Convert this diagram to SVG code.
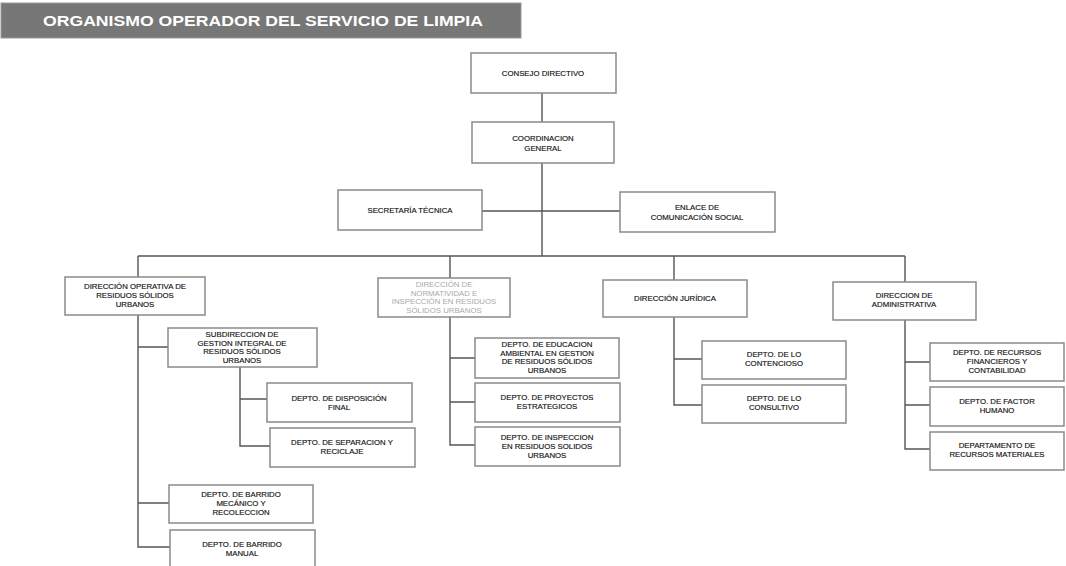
<svg xmlns="http://www.w3.org/2000/svg" width="1066" height="566" viewBox="0 0 1066 566">
<style>
.bx{fill:#fff;stroke:#8a8a8a;stroke-width:1.5}
.t{font-family:"Liberation Sans",Arial,sans-serif;font-size:7.8px;fill:#111;stroke:#111;stroke-width:0.15;text-anchor:middle}
.f{fill:#a8a8a8;stroke:none}
.c{fill:none;stroke:#555;stroke-width:1.4}
</style>
<rect width="1066" height="566" fill="#fff"/>
<g id="title">
<rect x="1" y="3" width="520" height="35" fill="#777" stroke="#999" stroke-width="1"/>
<text x="263" y="26" font-family="'Liberation Sans',Arial,sans-serif" font-size="14.5" font-weight="bold" fill="#fff" text-anchor="middle" textLength="440" lengthAdjust="spacingAndGlyphs">ORGANISMO OPERADOR DEL SERVICIO DE LIMPIA</text>
</g>
<g id="connectors">
<path class="c" d="M542,93V122M542,163V256M482,211H620"/>
<path class="c" d="M138,256H905M138,256V277M450,256V278M674,256V280M905,256V282"/>
<path class="c" d="M138,315V547H170M138,347H168M138,503H169"/>
<path class="c" d="M240,367V446H270M240,399H267"/>
<path class="c" d="M450,317V445H475M450,358H475M450,402H475"/>
<path class="c" d="M674,317V405H702M674,359H702"/>
<path class="c" d="M905,320V449H930M905,362H930M905,405H930"/>
</g>
<g id="consejo"><rect class="bx" x="471" y="53" width="145" height="40"/><text class="t" x="543" y="76">CONSEJO DIRECTIVO</text></g>
<g id="coordinacion"><rect class="bx" x="472" y="122" width="142" height="41"/><text class="t" x="543" y="141">COORDINACION</text><text class="t" x="543" y="150.5">GENERAL</text></g>
<g id="secretaria"><rect class="bx" x="338" y="190" width="144" height="40"/><text class="t" x="410" y="213">SECRETARÍA TÉCNICA</text></g>
<g id="enlace"><rect class="bx" x="620" y="192" width="155" height="40"/><text class="t" x="697" y="210">ENLACE DE</text><text class="t" x="697" y="219.5">COMUNICACIÓN SOCIAL</text></g>
<g id="dir-operativa"><rect class="bx" x="65" y="277" width="140" height="38"/><text class="t" x="135" y="289">DIRECCIÓN OPERATIVA DE</text><text class="t" x="135" y="298">RESIDUOS SÓLIDOS</text><text class="t" x="135" y="307">URBANOS</text></g>
<g id="subdireccion"><rect class="bx" x="168" y="328" width="149" height="39"/><text class="t" x="242" y="337">SUBDIRECCION DE</text><text class="t" x="242" y="345.5">GESTION INTEGRAL DE</text><text class="t" x="242" y="354">RESIDUOS SÓLIDOS</text><text class="t" x="242" y="362.5">URBANOS</text></g>
<g id="disposicion"><rect class="bx" x="267" y="383" width="145" height="39"/><text class="t" x="339" y="401">DEPTO. DE DISPOSICIÓN</text><text class="t" x="339" y="410">FINAL</text></g>
<g id="separacion"><rect class="bx" x="270" y="428" width="145" height="39"/><text class="t" x="342" y="445">DEPTO. DE SEPARACION Y</text><text class="t" x="342" y="454">RECICLAJE</text></g>
<g id="barrido-mecanico"><rect class="bx" x="169" y="485" width="144" height="38"/><text class="t" x="241" y="497">DEPTO. DE BARRIDO</text><text class="t" x="241" y="506">MECÁNICO Y</text><text class="t" x="241" y="515">RECOLECCION</text></g>
<g id="barrido-manual"><rect class="bx" x="170" y="530" width="145" height="37"/><text class="t" x="242" y="547">DEPTO. DE BARRIDO</text><text class="t" x="242" y="556">MANUAL</text></g>
<g id="dir-normatividad"><rect class="bx" x="378" y="278" width="132" height="39"/><text class="t f" x="444" y="287">DIRECCIÓN DE</text><text class="t f" x="444" y="295.5">NORMATIVIDAD E</text><text class="t f" x="444" y="304">INSPECCIÓN EN RESIDUOS</text><text class="t f" x="444" y="312.5">SÓLIDOS URBANOS</text></g>
<g id="educacion"><rect class="bx" x="475" y="338" width="144" height="40"/><text class="t" x="547" y="347">DEPTO. DE EDUCACION</text><text class="t" x="547" y="355.5">AMBIENTAL EN GESTION</text><text class="t" x="547" y="364">DE RESIDUOS SÓLIDOS</text><text class="t" x="547" y="372.5">URBANOS</text></g>
<g id="proyectos"><rect class="bx" x="475" y="383" width="145" height="39"/><text class="t" x="547" y="400">DEPTO. DE PROYECTOS</text><text class="t" x="547" y="409">ESTRATEGICOS</text></g>
<g id="inspeccion"><rect class="bx" x="475" y="427" width="145" height="39"/><text class="t" x="547" y="440">DEPTO. DE INSPECCION</text><text class="t" x="547" y="449">EN RESIDUOS SOLIDOS</text><text class="t" x="547" y="458">URBANOS</text></g>
<g id="dir-juridica"><rect class="bx" x="603" y="280" width="144" height="37"/><text class="t" x="675" y="301">DIRECCIÓN JURÍDICA</text></g>
<g id="contencioso"><rect class="bx" x="702" y="341" width="144" height="38"/><text class="t" x="774" y="357">DEPTO. DE LO</text><text class="t" x="774" y="366">CONTENCIOSO</text></g>
<g id="consultivo"><rect class="bx" x="702" y="385" width="144" height="38"/><text class="t" x="774" y="401">DEPTO. DE LO</text><text class="t" x="774" y="410">CONSULTIVO</text></g>
<g id="dir-administrativa"><rect class="bx" x="833" y="282" width="143" height="38"/><text class="t" x="904" y="298">DIRECCION DE</text><text class="t" x="904" y="307">ADMINISTRATIVA</text></g>
<g id="financieros"><rect class="bx" x="930" y="343" width="134" height="38"/><text class="t" x="997" y="355">DEPTO. DE RECURSOS</text><text class="t" x="997" y="364">FINANCIEROS Y</text><text class="t" x="997" y="373">CONTABILIDAD</text></g>
<g id="factor-humano"><rect class="bx" x="930" y="387" width="134" height="39"/><text class="t" x="997" y="404">DEPTO. DE FACTOR</text><text class="t" x="997" y="413">HUMANO</text></g>
<g id="materiales"><rect class="bx" x="930" y="432" width="134" height="38"/><text class="t" x="997" y="448">DEPARTAMENTO DE</text><text class="t" x="997" y="457">RECURSOS MATERIALES</text></g>
</svg>
